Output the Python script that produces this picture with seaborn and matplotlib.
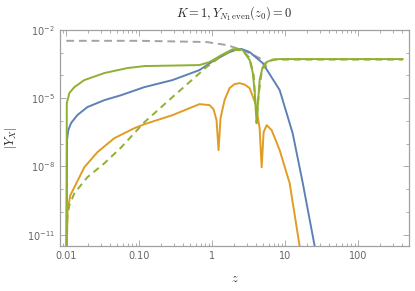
import numpy as np
import pandas as pd
import seaborn as sns
import matplotlib.pyplot as plt
from matplotlib.ticker import LogLocator, FixedLocator, FixedFormatter, NullFormatter

# values (log-log axes)
z_blue = [0.01, 0.01016, 0.01022, 0.01065, 0.0116, 0.01416, 0.01943, 0.0333, 0.0569, 0.1178,
          0.2856, 0.671, 1.079, 1.734, 2.2, 2.535, 3.266, 4.92, 8.43, 12.7, 17.5, 25.5, 31.8]
y_blue = [1e-13, 3.2e-10, 1.43e-7, 3.94e-7, 8.0e-7, 1.8e-6, 4.06e-6, 8.24e-6, 1.37e-5, 3.08e-5,
          6.27e-5, 1.73e-4, 4.76e-4, 1.07e-3, 1.4e-3, 1.46e-3, 1.07e-3, 3.52e-4, 2.28e-5, 2.9e-7,
          1.82e-9, 3.05e-12, 9.8e-14]

z_green = [0.01, 0.01009, 0.01016, 0.011, 0.0129, 0.01767, 0.0333, 0.0689, 0.1178, 0.671, 0.92,
           1.346, 1.905, 2.23, 2.618, 3.266, 3.589, 3.819, 4.074, 4.276, 4.477, 4.92, 5.585, 6.76,
           8.43, 412]
y_green = [1e-13, 3.2e-10, 6.08e-6, 1.68e-5, 3.08e-5, 6.27e-5, 1.28e-4, 2.12e-4, 2.59e-4, 2.87e-4,
           3.89e-4, 7.93e-4, 1.42e-3, 1.45e-3, 1.32e-3, 4.76e-4, 1.41e-4, 2.28e-5, 8.0e-7, 8.24e-6,
           6.27e-5, 2.34e-4, 3.89e-4, 5.01e-4, 5.27e-4, 5.27e-4]

z_green_d = [0.01, 0.01016, 0.01032, 0.011, 0.0129, 0.01943, 0.0333, 0.0569, 0.1178, 0.2856,
             0.8375, 1.346, 1.905, 2.23, 2.618, 3.266, 3.707, 4.074, 4.335, 4.775, 5.585, 7.19, 412]
y_green_d = [1e-13, 5.6e-12, 5.7e-11, 1.95e-10, 6.6e-10, 3.34e-9, 1.38e-8, 7.0e-8, 8.85e-7, 1.12e-5,
             2.34e-4, 7.16e-4, 1.28e-3, 1.33e-3, 1.25e-3, 5.85e-4, 1.04e-4, 8.0e-7, 1.37e-5, 1.41e-4,
             3.89e-4, 5.0e-4, 5.0e-4]

z_orange = [0.01, 0.01016, 0.01042, 0.01135, 0.0129, 0.01767, 0.02667, 0.0456, 0.0859, 0.1178,
            0.2856, 0.671, 0.92, 1.045, 1.148, 1.224, 1.303, 1.479, 1.734, 2.03, 2.377, 2.79,
            3.266, 3.945, 4.477, 4.775, 5.08, 5.585, 6.55, 8.43, 11.56, 15.85, 18.6]
y_orange = [1e-13, 3.4e-12, 1.17e-10, 5.4e-10, 1.21e-9, 9.2e-9, 4.23e-8, 1.75e-7, 4.82e-7, 7.2e-7,
            1.8e-6, 5.5e-6, 4.97e-6, 3.3e-6, 1.08e-6, 5.2e-8, 1.33e-6, 8.24e-6, 2.79e-5, 4.17e-5,
            4.62e-5, 3.98e-5, 2.79e-5, 5.5e-6, 4.82e-7, 9.2e-9, 3.21e-7, 6.5e-7, 3.94e-7, 5.2e-8,
            1.82e-9, 3.05e-12, 1.6e-13]

z_gray = [0.01, 0.1, 0.8375, 1.578, 2.618, 4.477, 5.585]
y_gray = [3.35e-3, 3.35e-3, 2.96e-3, 2.18e-3, 1.32e-3, 5.85e-4, 2.34e-4]

sns.set_style("ticks")
plt.rcParams['mathtext.fontset'] = 'cm'

fig = plt.figure(figsize=(4.15, 2.91), dpi=100)
ax = fig.add_axes([0.1446, 0.1546, 0.8409, 0.7423])

lw = 1.4
sns.lineplot(x=z_gray, y=y_gray, ax=ax, color='#a3a3a3', linewidth=lw,
             linestyle=(0, (4, 2.5)), sort=False)
sns.lineplot(x=z_blue, y=y_blue, ax=ax, color='#5e81b5', linewidth=lw, sort=False)
sns.lineplot(x=z_orange, y=y_orange, ax=ax, color='#e19c24', linewidth=lw, sort=False)
sns.lineplot(x=z_green_d, y=y_green_d, ax=ax, color='#8fb032', linewidth=lw,
             linestyle=(0, (3.5, 2.5)), sort=False)
sns.lineplot(x=z_green, y=y_green, ax=ax, color='#8fb032', linewidth=lw, sort=False)

ax.set_xscale('log')
ax.set_yscale('log')
ax.set_xlim(0.0082, 500)
ax.set_ylim(10 ** -11.5, 1e-2)

ax.xaxis.set_major_locator(FixedLocator([0.01, 0.1, 1, 10, 100]))
ax.xaxis.set_major_formatter(FixedFormatter(['0.01', '0.10', '1', '10', '100']))
ax.xaxis.set_minor_locator(LogLocator(base=10, subs=np.arange(2, 10), numticks=20))
ax.xaxis.set_minor_formatter(NullFormatter())
ax.yaxis.set_major_locator(FixedLocator([1e-2, 1e-5, 1e-8, 1e-11]))
ax.yaxis.set_major_formatter(FixedFormatter([r'$\mathregular{10^{-2}}$', r'$\mathregular{10^{-5}}$',
                                             r'$\mathregular{10^{-8}}$', r'$\mathregular{10^{-11}}$']))
ax.yaxis.set_minor_locator(FixedLocator([10.0 ** k for k in range(-12, -1)]))
ax.yaxis.set_minor_formatter(NullFormatter())

for s in ax.spines.values():
    s.set_color('#a0a0a0')
    s.set_linewidth(0.9)
ax.tick_params(which='both', direction='in', top=True, right=True, colors='#a0a0a0',
               labelcolor='#666666', labelsize=7, width=0.6)
ax.tick_params(which='major', length=4)
ax.tick_params(which='minor', length=2)

ax.set_title(r'$K=1,Y_{N_1\,\mathrm{even}}(z_0)=0$', fontsize=9, pad=9)
ax.set_xlabel(r'$z$', fontsize=9, labelpad=8)
ax.set_ylabel(r'$|Y_X|$', fontsize=9, labelpad=6)

fig.savefig('out.png', dpi=100)
